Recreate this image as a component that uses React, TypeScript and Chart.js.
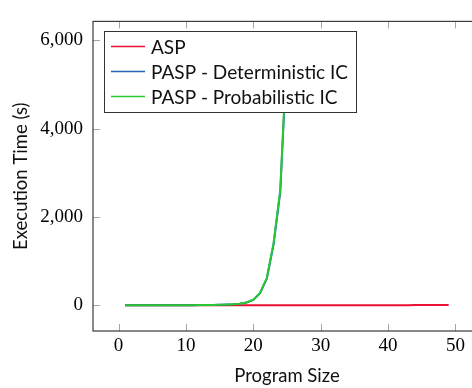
import React, { useEffect, useRef } from "react";
import { Chart, registerables } from "chart.js";

Chart.register(...registerables);

// Program sizes (x)
const paspSizes = [1, 2, 3, 4, 5, 6, 7, 8, 9, 10, 11, 12, 13, 14, 15, 16, 17, 18, 19, 20, 21, 22, 23, 24, 25];
const aspSizes = [
  1, 2, 3, 4, 5, 6, 7, 8, 9, 10, 11, 12, 13, 14, 15, 16, 17, 18, 19, 20, 21, 22, 23, 24, 25,
  26, 27, 28, 29, 30, 31, 32, 33, 34, 35, 36, 37, 38, 39, 40, 41, 42, 43, 44, 45, 46, 47, 48, 49,
];

// Execution times (s)
const aspTimes = [
  0.01, 0.01, 0.01, 0.01, 0.02, 0.02, 0.02, 0.03, 0.03, 0.04, 0.05, 0.05, 0.06, 0.07, 0.08, 0.09, 0.1,
  0.12, 0.13, 0.15, 0.17, 0.19, 0.21, 0.24, 0.27, 0.3, 0.33, 0.37, 0.41, 0.45, 0.5, 0.55, 0.6, 0.66,
  0.72, 0.79, 0.86, 0.94, 1.0, 1.1, 1.2, 1.3, 1.4, 1.5, 1.6, 1.8, 1.9, 2.1, 2.3,
];
const detTimes = [
  0.01, 0.01, 0.02, 0.03, 0.05, 0.08, 0.1, 0.2, 0.3, 0.5, 0.9, 1.6, 3, 5, 8, 13, 21, 34, 60, 120,
  270, 600, 1370, 2560, 5760,
];
const probTimes = [
  0.01, 0.01, 0.02, 0.03, 0.05, 0.08, 0.1, 0.2, 0.3, 0.5, 0.9, 1.6, 3, 5, 8, 13, 22, 35, 62, 125,
  280, 615, 1400, 2620, 5850,
];

const seriesLabels = ["ASP", "PASP - Deterministic IC", "PASP - Probabilistic IC"];
const seriesColors = ["#ec1034", "#2466b4", "#28c834"];

const xTickValues = [0, 10, 20, 30, 40, 50];
const yTickValues = [0, 2000, 4000, 6000];
const xMin = -3.8;
const xMax = 53.8;
const yMin = -585;
const yMax = 6432;

const LEGEND_FONT = "19px Lato";

const frameAndLegend = {
  id: "frameAndLegend",
  afterDraw(chart: any) {
    const { ctx, chartArea: a, scales } = chart;
    ctx.save();
    const line = (x1: number, y1: number, x2: number, y2: number) => {
      ctx.beginPath();
      ctx.moveTo(x1, y1);
      ctx.lineTo(x2, y2);
      ctx.stroke();
    };
    // inward ticks
    ctx.strokeStyle = "#a6a6a6";
    ctx.lineWidth = 1;
    for (const v of xTickValues) {
      const px = Math.round(scales.x.getPixelForValue(v)) + 0.5;
      line(px, a.bottom, px, a.bottom - 7);
      line(px, a.top, px, a.top + 7);
    }
    for (const v of yTickValues) {
      const py = Math.round(scales.y.getPixelForValue(v)) + 0.5;
      line(a.left, py, a.left + 7, py);
      line(a.right, py, a.right - 7, py);
    }
    // frame
    ctx.strokeStyle = "#3a3a3a";
    ctx.lineWidth = 1.2;
    ctx.strokeRect(a.left, a.top, a.right - a.left, a.bottom - a.top);

    // legend
    const lx = Math.round(a.left + 11) + 0.5;
    const ly = Math.round(a.top + 10) + 0.5;
    const lw = 252;
    const lh = 81;
    ctx.fillStyle = "#ffffff";
    ctx.fillRect(lx, ly, lw, lh);
    ctx.strokeStyle = "#333333";
    ctx.lineWidth = 1;
    ctx.strokeRect(lx, ly, lw, lh);
    ctx.font = LEGEND_FONT;
    ctx.textBaseline = "middle";
    ctx.textAlign = "left";
    chart.data.datasets.forEach((ds: any, i: number) => {
      const rowY = ly + 15 + i * 25;
      ctx.strokeStyle = ds.borderColor;
      ctx.lineWidth = 1.3;
      line(lx + 6.5, rowY, lx + 40.5, rowY);
      ctx.fillStyle = "#111111";
      ctx.fillText(ds.label, lx + 46.5, rowY + 1);
    });
    ctx.restore();
  },
};

export default function App() {
  const canvasRef = useRef<HTMLCanvasElement | null>(null);

  useEffect(() => {
    const canvas = canvasRef.current;
    if (!canvas) return;
    const toPoints = (xs: number[], ys: number[]) => xs.map((x, i) => ({ x, y: ys[i] }));
    const chart = new Chart(canvas, {
      type: "line",
      data: {
        datasets: [
          {
            label: seriesLabels[0],
            data: toPoints(aspSizes, aspTimes),
            borderColor: seriesColors[0],
            backgroundColor: seriesColors[0],
            borderWidth: 2,
            pointRadius: 0,
            tension: 0,
            order: 2,
          },
          {
            label: seriesLabels[1],
            data: toPoints(paspSizes, detTimes),
            borderColor: seriesColors[1],
            backgroundColor: seriesColors[1],
            borderWidth: 2,
            pointRadius: 0,
            tension: 0,
            order: 1,
          },
          {
            label: seriesLabels[2],
            data: toPoints(paspSizes, probTimes),
            borderColor: seriesColors[2],
            backgroundColor: seriesColors[2],
            borderWidth: 2,
            pointRadius: 0,
            tension: 0,
            order: 0,
          },
        ],
      },
      options: {
        animation: false,
        responsive: false,
        devicePixelRatio: 1,
        locale: "en-US",
        layout: { padding: { top: 8, right: 9, left: 0, bottom: 0 } },
        plugins: {
          legend: { display: false },
          tooltip: { enabled: false },
        },
        scales: {
          x: {
            type: "linear",
            min: xMin,
            max: xMax,
            afterBuildTicks: (s: any) => {
              s.ticks = xTickValues.map((v) => ({ value: v }));
            },
            afterFit: (s: any) => {
              s.height = 57;
            },
            grid: { display: false, drawTicks: false },
            border: { display: false },
            ticks: {
              padding: 4,
              color: "#000",
              font: { family: "Liberation Serif", size: 19 },
              callback: (v: any) => String(v),
              maxRotation: 0,
              autoSkip: false,
            },
            title: {
              display: true,
              text: "Program Size",
              color: "#111",
              font: { family: "Lato", size: 18.5 },
              padding: { top: 0, bottom: 1 },
            },
          },
          y: {
            type: "linear",
            min: yMin,
            max: yMax,
            afterBuildTicks: (s: any) => {
              s.ticks = yTickValues.map((v) => ({ value: v }));
            },
            afterFit: (s: any) => {
              s.width = 93;
            },
            grid: { display: false, drawTicks: false },
            border: { display: false },
            ticks: {
              padding: 10,
              color: "#000",
              font: { family: "Liberation Serif", size: 19 },
              callback: (v: any) => Number(v).toLocaleString("en-US"),
              autoSkip: false,
            },
            title: {
              display: true,
              text: "Execution Time (s)",
              color: "#111",
              font: { family: "Lato", size: 18.5 },
              padding: { top: 10, bottom: 0 },
            },
          },
        },
      },
      plugins: [frameAndLegend],
    });
    return () => chart.destroy();
  }, []);

  return (
    <div
      style={{
        position: "fixed",
        left: 0,
        top: 0,
        width: 472,
        height: 388,
        overflow: "hidden",
        background: "#fff",
      }}
    >
      <canvas ref={canvasRef} width={490} height={388} style={{ display: "block" }} />
    </div>
  );
}
